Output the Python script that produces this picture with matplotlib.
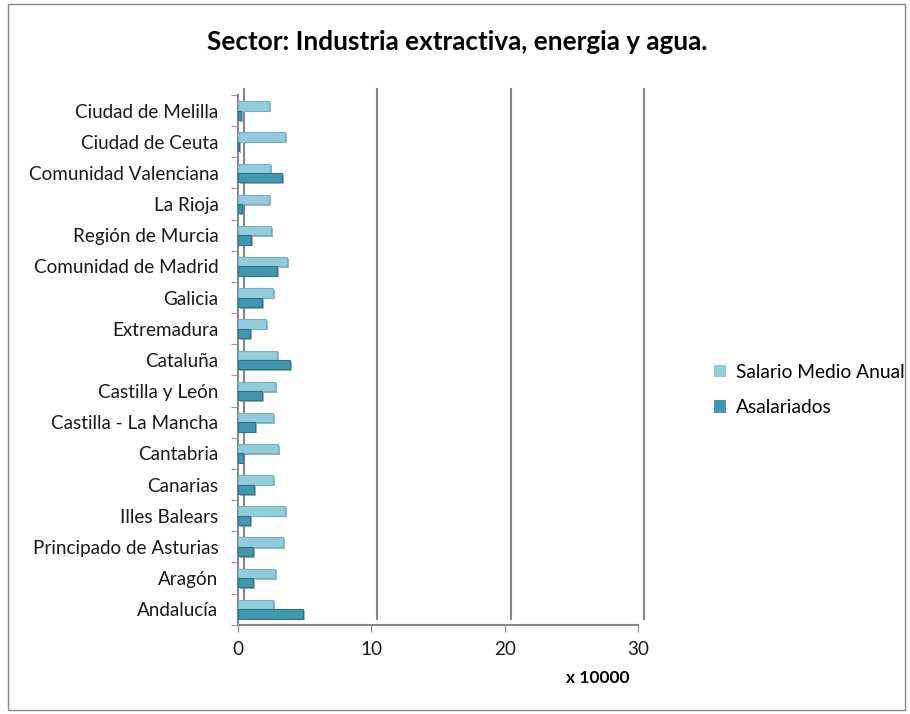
import numpy as np
import matplotlib.pyplot as plt
from matplotlib import patheffects as pe
from matplotlib.patches import Rectangle, Patch
from matplotlib.transforms import ScaledTranslation

plt.rcParams['font.family'] = ['Lato', 'DejaVu Sans']

regions = ['Andalucía', 'Aragón', 'Principado de Asturias', 'Illes Balears',
           'Canarias', 'Cantabria', 'Castilla - La Mancha', 'Castilla y León',
           'Cataluña', 'Extremadura', 'Galicia', 'Comunidad de Madrid',
           'Región de Murcia', 'La Rioja', 'Comunidad Valenciana',
           'Ciudad de Ceuta', 'Ciudad de Melilla']
salario = [2.6, 2.8, 3.4, 3.5, 2.6, 3.0, 2.6, 2.8, 2.9, 2.1, 2.6, 3.7,
           2.5, 2.3, 2.4, 3.5, 2.3]
asalariados = [4.9, 1.1, 1.1, 0.9, 1.2, 0.4, 1.3, 1.8, 3.9, 0.9, 1.8, 2.9,
               1.0, 0.3, 3.3, 0.1, 0.2]

fig = plt.figure(figsize=(9.1, 7.14), dpi=100)
ax = fig.add_axes([0.2615, 0.125, 0.4396, 0.742])

y = np.arange(len(regions))
h = 0.3
shadow = [pe.SimplePatchShadow(offset=(1.5, -1.2), shadow_rgbFace='#6f7f86', alpha=0.6), pe.Normal()]
b1 = ax.barh(y + h / 2, salario, height=h, color='#93cddd', edgecolor='#6fb3c6',
             linewidth=0.8, zorder=3)
b2 = ax.barh(y - h / 2, asalariados, height=h, color='#3f98ae', edgecolor='#2c7487',
             linewidth=0.8, zorder=3)
for b in list(b1) + list(b2):
    b.set_path_effects(shadow)

ax.set_xlim(0, 30)
ax.set_ylim(-0.5, len(regions) - 0.5)
ax.set_xticks([0, 10, 20, 30])
ax.set_yticks(y)
ax.set_yticklabels(regions, fontsize=13.6)
ax.tick_params(axis='x', labelsize=13.6, length=5, color='#888888', pad=7)
ax.tick_params(axis='y', which='major', length=0, pad=14)
for lbl in ax.get_xticklabels() + ax.get_yticklabels():
    lbl.set_color('#1a1a1a')
ax.set_yticks(np.arange(len(regions) + 1) - 0.5, minor=True)
ax.tick_params(axis='y', which='minor', length=5, color='#888888')

for s in ['top', 'right']:
    ax.spines[s].set_visible(False)
ax.spines['left'].set_color('#888888')
ax.spines['bottom'].set_color('#888888')
ax.spines['left'].set_linewidth(1.5)
ax.spines['bottom'].set_linewidth(1.5)

# back-wall gridlines, shifted for depth
off = ax.transData + ScaledTranslation(0.06, 0.06, fig.dpi_scale_trans)
for gx in [0, 10, 20, 30]:
    ax.plot([gx, gx], [-0.5, len(regions) - 0.5], color='#888888', lw=1.5,
            transform=off, zorder=1, clip_on=False)

fig.text(0.502, 0.941, 'Sector: Industria extractiva, energia y agua.', ha='center',
         va='center', fontsize=18.8, fontweight='bold')
fig.text(0.657, 0.043, 'x 10000', ha='center', fontsize=12.5, fontweight='bold')

handles = [Patch(facecolor='#93cddd', label='Salario Medio Anual'),
           Patch(facecolor='#3f98ae', label='Asalariados')]
fig.legend(handles=handles, loc='center left', bbox_to_anchor=(0.776, 0.454),
           frameon=False, fontsize=13.8, handlelength=0.65, handleheight=0.65,
           handletextpad=0.5, labelspacing=0.95, borderaxespad=0)

fig.patches.append(Rectangle((0.009, 0.006), 0.985, 0.988, transform=fig.transFigure,
                             fill=False, edgecolor='#888888', lw=1))

fig.savefig('out.png', dpi=100)
